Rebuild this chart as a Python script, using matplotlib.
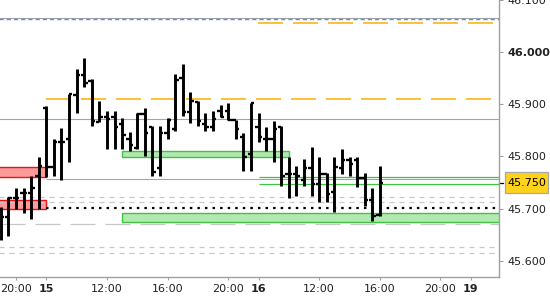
import matplotlib
matplotlib.use('Agg')
import matplotlib.pyplot as plt
import numpy as np
from matplotlib.patches import Rectangle

plt.rcParams['lines.scale_dashes'] = False
plt.rcParams['font.family'] = 'DejaVu Sans'

# %% data: 30-minute OHLC bars
opens = [45.694, 45.683, 45.721, 45.729, 45.729, 45.762, 45.893, 45.780, 45.827, 45.833,
         45.918, 45.957, 45.945, 45.866, 45.875, 45.876, 45.863, 45.833, 45.817, 45.881,
         45.856, 45.777, 45.845, 45.852, 45.951, 45.886, 45.905, 45.863, 45.856, 45.887,
         45.888, 45.870, 45.838, 45.804, 45.857, 45.833, 45.833, 45.856, 45.767, 45.766,
         45.755, 45.777, 45.747, 45.766, 45.732, 45.777, 45.794, 45.794, 45.758, 45.716,
         45.688]
highs = [45.703, 45.723, 45.739, 45.739, 45.762, 45.798, 45.896, 45.833, 45.854, 45.919,
         45.967, 45.988, 45.948, 45.906, 45.888, 45.888, 45.873, 45.846, 45.884, 45.893,
         45.858, 45.858, 45.873, 45.958, 45.977, 45.923, 45.906, 45.883, 45.887, 45.898,
         45.902, 45.870, 45.845, 45.902, 45.883, 45.857, 45.868, 45.858, 45.799, 45.782,
         45.795, 45.818, 45.799, 45.769, 45.799, 45.814, 45.799, 45.799, 45.768, 45.739,
         45.782]
lows = [45.640, 45.647, 45.700, 45.691, 45.680, 45.700, 45.761, 45.762, 45.755, 45.790,
        45.884, 45.934, 45.859, 45.866, 45.814, 45.814, 45.814, 45.810, 45.814, 45.801,
        45.762, 45.762, 45.833, 45.849, 45.878, 45.864, 45.859, 45.849, 45.849, 45.875,
        45.870, 45.834, 45.773, 45.773, 45.828, 45.811, 45.790, 45.744, 45.720, 45.725,
        45.744, 45.725, 45.713, 45.713, 45.694, 45.767, 45.762, 45.741, 45.704, 45.677,
        45.686]
closes = [45.683, 45.721, 45.721, 45.729, 45.739, 45.781, 45.780, 45.827, 45.827, 45.919,
          45.957, 45.941, 45.868, 45.875, 45.872, 45.857, 45.841, 45.822, 45.881, 45.845,
          45.771, 45.845, 45.870, 45.946, 45.886, 45.906, 45.868, 45.857, 45.872, 45.876,
          45.870, 45.852, 45.798, 45.902, 45.837, 45.833, 45.852, 45.762, 45.766, 45.762,
          45.777, 45.747, 45.766, 45.728, 45.780, 45.794, 45.785, 45.758, 45.716, 45.686,
          45.750]

tick_bars = [2, 6, 14, 22, 30, 34, 42, 50, 58, 62]
tick_labels = ['20:00', '15', '12:00', '16:00', '20:00', '16', '12:00', '16:00', '20:00', '19']
day_labels = ['15', '16', '19']

price_ticks = [45.6, 45.7, 45.8, 45.9, 46.0, 46.1]
last_price = 45.750

# zones: (first bar, last bar, bottom, top)
supply_zones = [(-1, 6, 45.760, 45.779), (-1, 6, 45.700, 45.716)]
demand_zones = [(16, 38, 45.799, 45.811), (16, 70, 45.675, 45.691)]
green_lines = [45.760, 45.747]
green_from = 34
orange_levels = [46.055, 45.911]
orange_from = [34, 6]
gray_full = [46.065, 45.872]
gray_partial = 45.756
dotted_level = 45.701
light_dash = [45.723, 45.713, 45.627, 45.614]
light_long = 45.670
blue_level = 46.063

# %% figure
fig = plt.figure(figsize=(5.5, 3.0), dpi=100)
ax = fig.add_axes([0, 23 / 300, 499 / 550, 277 / 300])
ax.set_xlim(-0.11, 65.72)
ax.set_ylim(45.5688, 46.1)
xmax = 70

for x0, x1, lo, hi in supply_zones:
    ax.add_patch(Rectangle((x0, lo), x1 - x0, hi - lo, fc='#ff9a9a', ec='#ee1111', lw=1.0, zorder=1))
for x0, x1, lo, hi in demand_zones:
    ax.add_patch(Rectangle((x0, lo), x1 - x0, hi - lo, fc='#b3e8b3', ec='#3fc43f', lw=1.0, zorder=1))

ax.hlines(gray_full, -1, xmax, color='#a4a4a4', lw=0.8, zorder=2)
ax.hlines(gray_partial, 6, xmax, color='#a4a4a4', lw=0.8, zorder=2)
ax.hlines(blue_level, -1, xmax, color='#5b8fe6', lw=1.0, ls=(0, (3, 2.2)), zorder=2)
ax.hlines(green_lines, green_from, xmax, color='#3fc43f', lw=0.9, zorder=2)
for lvl, start in zip(orange_levels, orange_from):
    ax.hlines(lvl, start - 0.05, xmax, color='#ffad00', lw=1.1, ls=(0, (18, 7.2)), zorder=2)
ax.hlines(light_dash, -1, xmax, color='#c8c8c8', lw=0.9, ls=(0, (3.6, 3.6)), zorder=2)
ax.hlines(light_long, -0.11, xmax, color='#c8c8c8', lw=0.9, ls=(0, (18, 7.2)), zorder=2)
ax.hlines(dotted_level, 6, xmax, color='black', lw=1.6, ls=(0, (1.8, 3.65)), zorder=2)

# OHLC bars
x = np.arange(len(opens))
ax.vlines(x, lows, highs, color='black', lw=2.1, zorder=4)
ax.hlines(opens, x - 0.45, x, color='black', lw=1.7, zorder=4)
ax.hlines(closes, x, x + 0.45, color='black', lw=1.7, zorder=4)

# axes styling
for s in ['left', 'top']:
    ax.spines[s].set_visible(False)
for s in ['right', 'bottom']:
    ax.spines[s].set_color('#a0a0a0')
    ax.spines[s].set_linewidth(1.0)

ax.yaxis.tick_right()
ax.set_yticks(price_ticks)
ax.set_yticklabels([f'{p:.3f}' for p in price_ticks])
ax.tick_params(axis='y', direction='out', length=3, width=0.8, color='#a0a0a0',
               pad=3, labelsize=8, labelcolor='#222222')
ax.set_xticks(tick_bars)
ax.set_xticklabels(tick_labels)
ax.tick_params(axis='x', direction='out', length=2.5, width=0.8, color='#a0a0a0',
               pad=2.5, labelsize=8, labelcolor='#222222')
for lab in ax.get_xticklabels():
    if lab.get_text() in day_labels:
        lab.set_fontweight('bold')
for lab in ax.get_yticklabels():
    if lab.get_text() == '46.000':
        lab.set_fontweight('bold')

# last price tag
yt = ax.get_yaxis_transform()
ax.plot([1.0, 1.009], [last_price, last_price], transform=yt, color='black', lw=0.9, clip_on=False)
ax.add_patch(Rectangle((505 / 499, last_price - 0.0195), 43 / 499, 0.039, transform=yt,
                       fc='#ffd21c', ec='#a8a8a8', lw=0.9, clip_on=False, zorder=5))
ax.text(526.5 / 499, last_price, f'{last_price:.3f}', transform=yt, ha='center', va='center',
        fontsize=8, color='black', zorder=6, clip_on=False)

plt.savefig('out.png', dpi=100)
